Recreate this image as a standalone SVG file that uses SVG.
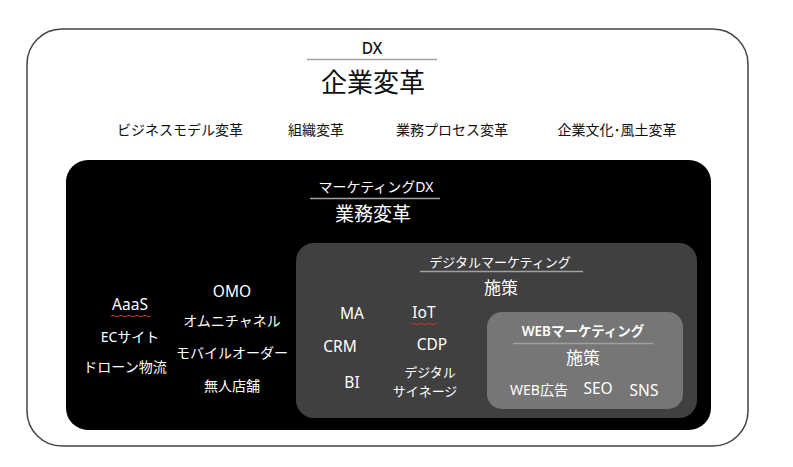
<svg xmlns="http://www.w3.org/2000/svg" width="793" height="467" viewBox="0 0 793 467">
<style>
text{font-family:"Noto Sans","Noto Sans CJK JP",sans-serif;text-anchor:middle;}
.k{fill:#111;}
.w{fill:#fff;}
.s13{font-size:13px;}
.s14{font-size:14px;}
.lat{font-size:15.5px;}
.rule{stroke:#a0a0a0;stroke-width:1.5;}
.sq{fill:none;stroke:#c0392b;stroke-width:1;}
</style>
<rect width="793" height="467" fill="#fff"/>
<g id="outer">
<rect x="27" y="29" width="721" height="417" rx="35" fill="#fff" stroke="#444" stroke-width="1.5"/>
<text class="k" x="372" y="54" font-size="15.500" font-weight="500">DX</text>
<line class="rule" x1="307" y1="59.500" x2="437" y2="59.500"/>
<text class="k" x="373" y="92" font-size="26">企業変革</text>
<text class="k s14" x="180" y="135">ビジネスモデル変革</text>
<text class="k s14" x="316" y="135">組織変革</text>
<text class="k s14" x="452" y="135">業務プロセス変革</text>
<text class="k s14" x="617" y="135">企業文化･風土変革</text>
</g>
<g id="marketing-dx">
<rect x="66" y="160" width="645" height="270" rx="22" fill="#000"/>
<text class="w" x="376" y="192" font-size="14">マーケティングDX</text>
<line class="rule" x1="310" y1="198.500" x2="440" y2="198.500"/>
<text class="w" x="373" y="221" font-size="19">業務変革</text>
<text class="w lat" x="130" y="310">AaaS</text>
<path class="sq" d="M111 316 q2 -1.500 4 0 t4 0 t4 0 t4 0 t4 0 t4 0 t4 0 t4 0 t4 0 t4 0"/>
<text class="w s14" x="130" y="342">ECサイト</text>
<text class="w s14" x="125" y="372">ドローン物流</text>
<text class="w lat" x="232" y="297">OMO</text>
<text class="w s14" x="232" y="326">オムニチャネル</text>
<text class="w s14" x="232" y="358">モバイルオーダー</text>
<text class="w s14" x="232" y="391">無人店舗</text>
</g>
<g id="digital-marketing">
<rect x="296" y="243" width="401" height="175" rx="18" fill="#404040"/>
<text class="w s13" x="500" y="267">デジタルマーケティング</text>
<line class="rule" x1="420" y1="271.500" x2="583" y2="271.500"/>
<text class="w" x="501" y="294" font-size="17">施策</text>
<text class="w lat" x="352" y="319">MA</text>
<text class="w lat" x="424" y="318">IoT</text>
<path class="sq" d="M411 324 q2 -1.500 4 0 t4 0 t4 0 t4 0 t4 0 t4 0 t2 0"/>
<text class="w lat" x="340" y="352">CRM</text>
<text class="w lat" x="432" y="350">CDP</text>
<text class="w lat" x="352" y="388">BI</text>
<text class="w" x="430" y="377" font-size="13">デジタル</text>
<text class="w" x="425" y="396" font-size="13">サイネージ</text>
</g>
<g id="web-marketing">
<rect x="487" y="312" width="196" height="97" rx="15" fill="#767676"/>
<text class="w" x="583" y="336" font-size="13.500" font-weight="600">WEBマーケティング</text>
<line class="rule" x1="513" y1="343.500" x2="653" y2="343.500"/>
<text class="w" x="583" y="364" font-size="17">施策</text>
<text class="w s14" x="539" y="395">WEB広告</text>
<text class="w lat" x="598" y="394">SEO</text>
<text class="w lat" x="644" y="396">SNS</text>
</g>
<g id="connectors"></g>
</svg>
